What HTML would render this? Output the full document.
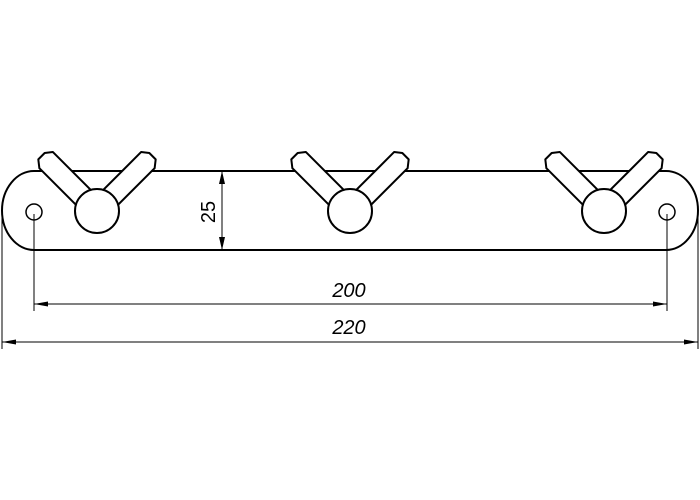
<!DOCTYPE html>
<html><head><style>html,body{margin:0;padding:0;background:#fff}svg{display:block}</style></head>
<body>
<svg width="700" height="500" viewBox="0 0 700 500" xmlns="http://www.w3.org/2000/svg">
<defs>
<g id="hook">
  <polygon transform="rotate(-135)" points="0,-10.5 71,-10.5 78,-5 78,4 73,10.5 0,10.5" fill="#fff" stroke="#000" stroke-width="2" stroke-linejoin="round"/>
  <polygon transform="rotate(-45)" points="0,-10.5 73,-10.5 78,-4 78,5 71,10.5 0,10.5" fill="#fff" stroke="#000" stroke-width="2" stroke-linejoin="round"/>
  <circle r="22" fill="#fff" stroke="#000" stroke-width="2"/>
</g>
</defs>
<path d="M34,171 L666,171 A32,39.5 0 0 1 666,250 L34,250 A32,39.5 0 0 1 34,171 Z" fill="#fff" stroke="#000" stroke-width="2"/>
<circle cx="34" cy="212" r="8" fill="none" stroke="#000" stroke-width="1.5"/>
<circle cx="667" cy="212" r="8" fill="none" stroke="#000" stroke-width="1.5"/>
<use href="#hook" x="97" y="211"/>
<use href="#hook" x="350" y="211"/>
<use href="#hook" x="604" y="211"/>
<line x1="222" y1="171" x2="222" y2="250" stroke="#000" stroke-width="1"/>
<polygon points="222,171 219,184 225,184" fill="#000"/>
<polygon points="222,250 219,237 225,237" fill="#000"/>
<text x="0" y="0" transform="translate(215,212) rotate(-90)" text-anchor="middle" font-family="Liberation Sans, sans-serif" font-size="20">25</text>
<line x1="34" y1="214" x2="34" y2="311" stroke="#000" stroke-width="1"/>
<line x1="667" y1="214" x2="667" y2="311" stroke="#000" stroke-width="1"/>
<line x1="34" y1="304" x2="667" y2="304" stroke="#000" stroke-width="1"/>
<polygon points="34,304 48,301.5 48,306.5" fill="#000"/>
<polygon points="667,304 653,301.5 653,306.5" fill="#000"/>
<text x="349" y="297" text-anchor="middle" font-family="Liberation Sans, sans-serif" font-style="italic" font-size="20">200</text>
<line x1="2" y1="212" x2="2" y2="349" stroke="#000" stroke-width="1"/>
<line x1="698" y1="212" x2="698" y2="349" stroke="#000" stroke-width="1"/>
<line x1="2" y1="342" x2="698" y2="342" stroke="#000" stroke-width="1"/>
<polygon points="2,342 16,339.5 16,344.5" fill="#000"/>
<polygon points="698,342 684,339.5 684,344.5" fill="#000"/>
<text x="349" y="334" text-anchor="middle" font-family="Liberation Sans, sans-serif" font-style="italic" font-size="20">220</text>
</svg>
</body></html>
